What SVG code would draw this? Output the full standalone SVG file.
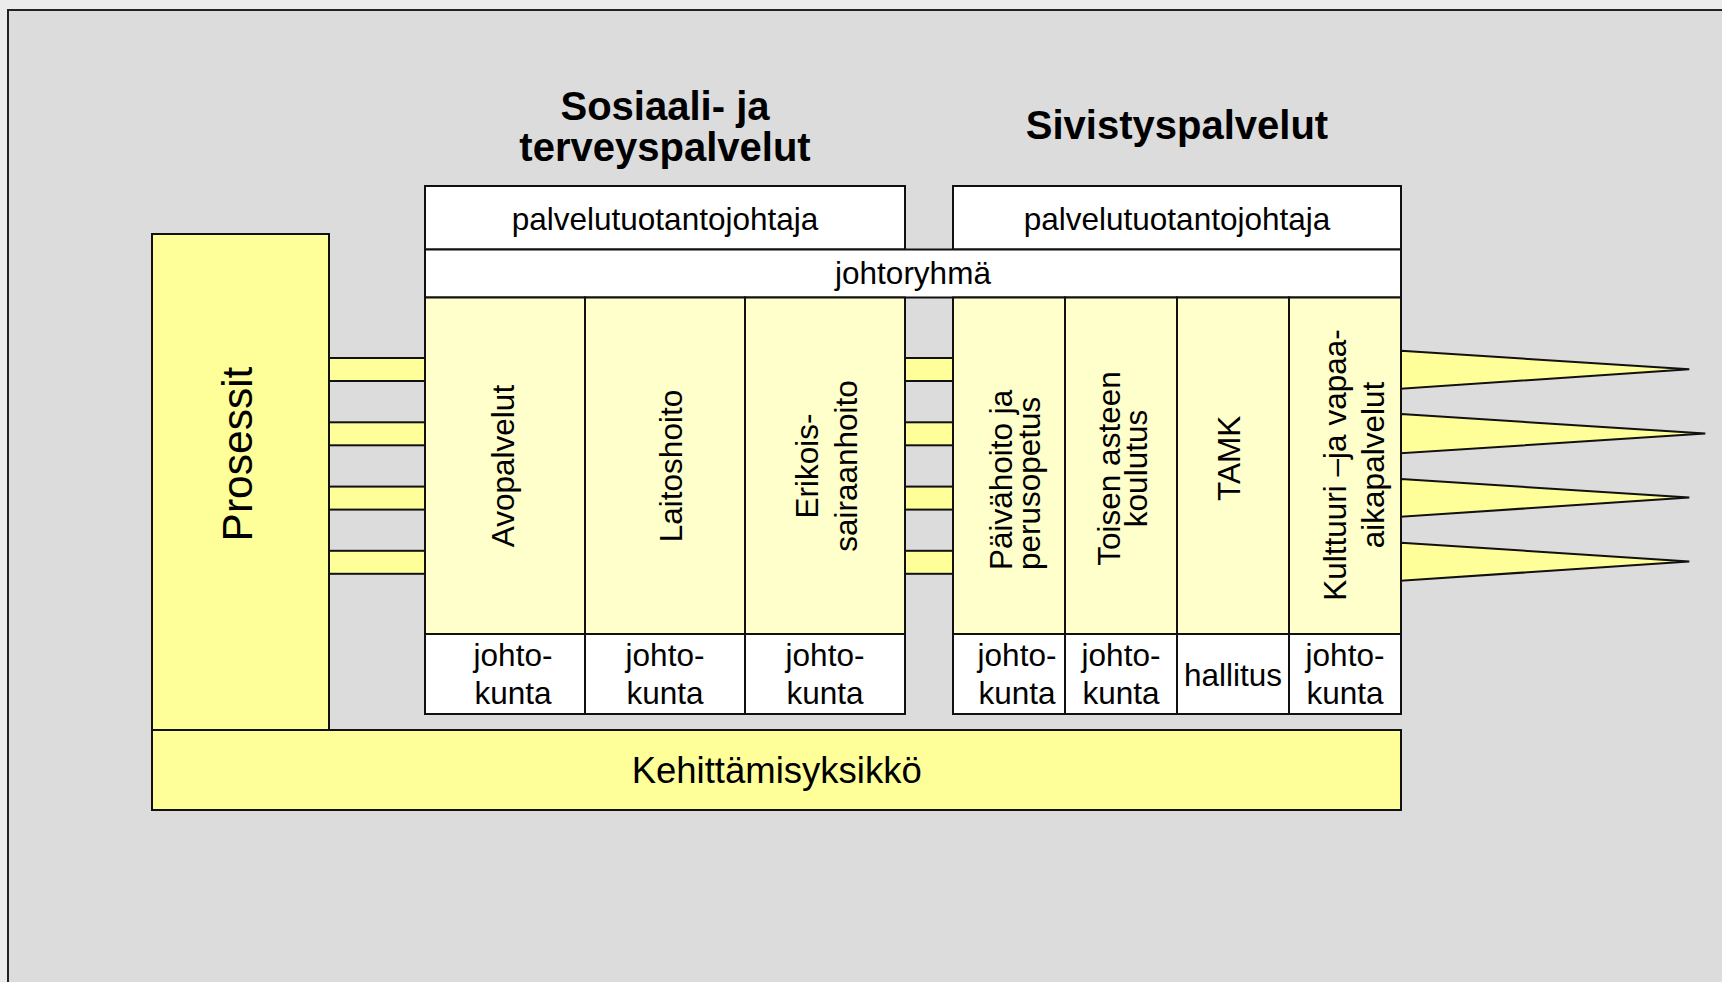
<svg xmlns="http://www.w3.org/2000/svg" width="1722" height="982" viewBox="0 0 1722 982">
<style>
text{font-family:"Liberation Sans",Arial,sans-serif;fill:#000}
.t{font-size:31.5px}
.c{text-anchor:middle}
.h{font-size:40px;font-weight:bold;text-anchor:middle}
.box{stroke:#111;stroke-width:2}
.w{fill:#fff}
.y{fill:#ffff99}
.ly{fill:#ffffcc}
</style>
<rect x="0" y="0" width="1722" height="982" fill="#ebebeb"/>
<rect x="8" y="10" width="1730" height="990" fill="#dcdcdc" stroke="#222" stroke-width="2"/>

<g id="titles">
<text class="h" x="665" y="120">Sosiaali- ja</text>
<text class="h" x="665" y="160.7">terveyspalvelut</text>
<text class="h" x="1177" y="139">Sivistyspalvelut</text>
</g>

<g id="connectors">
<rect class="box y" x="329" y="358" width="96" height="23"/>
<rect class="box y" x="329" y="422.3" width="96" height="23"/>
<rect class="box y" x="329" y="486.6" width="96" height="23"/>
<rect class="box y" x="329" y="550.8" width="96" height="23"/>
<rect class="box y" x="905" y="358" width="48" height="23"/>
<rect class="box y" x="905" y="422.3" width="48" height="23"/>
<rect class="box y" x="905" y="486.6" width="48" height="23"/>
<rect class="box y" x="905" y="550.8" width="48" height="23"/>
<polygon class="box y" points="1401,350.7 1689.3,369.3 1401,388.7"/>
<polygon class="box y" points="1401,414 1705.3,433.5 1401,453.3"/>
<polygon class="box y" points="1401,479 1689.3,497.5 1401,516.7"/>
<polygon class="box y" points="1401,542.7 1689.3,561.5 1401,580.7"/>
</g>

<g id="prosessit">
<rect class="box y" x="152" y="234" width="177" height="496"/>
<text transform="translate(252,454) rotate(-90)" class="c" style="font-size:42.5px">Prosessit</text>
</g>

<g id="kehittamisyksikko">
<rect class="box y" x="152" y="730" width="1249" height="80"/>
<text class="c" x="776.7" y="782.7" style="font-size:36.5px">Kehittämisyksikkö</text>
</g>

<g id="palvelutuotantojohtaja-sote">
<rect class="box w" x="425" y="186" width="480" height="63.5"/>
<text class="t c" x="665" y="230">palvelutuotantojohtaja</text>
</g>
<g id="palvelutuotantojohtaja-sivistys">
<rect class="box w" x="953" y="186" width="448" height="63.5"/>
<text class="t c" x="1177" y="230">palvelutuotantojohtaja</text>
</g>
<g id="johtoryhma">
<rect class="box w" x="425" y="249.5" width="976" height="48"/>
<text class="t c" x="913" y="284">johtoryhmä</text>
</g>

<g id="avopalvelut">
<rect class="box ly" x="425" y="297.5" width="160" height="336.5"/>
<text class="t c" transform="translate(514,466) rotate(-90)">Avopalvelut</text>
<rect class="box w" x="425" y="634" width="160" height="80"/>
<text class="t c" x="513" y="666">johto-</text>
<text class="t c" x="513" y="704">kunta</text>
</g>
<g id="laitoshoito">
<rect class="box ly" x="585" y="297.5" width="160" height="336.5"/>
<text class="t c" transform="translate(681.7,466) rotate(-90)">Laitoshoito</text>
<rect class="box w" x="585" y="634" width="160" height="80"/>
<text class="t c" x="665" y="666">johto-</text>
<text class="t c" x="665" y="704">kunta</text>
</g>
<g id="erikoissairaanhoito">
<rect class="box ly" x="745" y="297.5" width="160" height="336.5"/>
<text class="t c" transform="translate(818.3,466) rotate(-90)"><tspan x="0" y="0">Erikois-</tspan><tspan x="0" y="38.4">sairaanhoito</tspan></text>
<rect class="box w" x="745" y="634" width="160" height="80"/>
<text class="t c" x="825" y="666">johto-</text>
<text class="t c" x="825" y="704">kunta</text>
</g>

<g id="paivahoito">
<rect class="box ly" x="953" y="297.5" width="112" height="336.5"/>
<text class="t" transform="translate(1012.3,570) rotate(-90)"><tspan x="0" y="0">Päivähoito ja</tspan><tspan x="0" y="28">perusopetus</tspan></text>
<rect class="box w" x="953" y="634" width="112" height="80"/>
<text class="t c" x="1017" y="666">johto-</text>
<text class="t c" x="1017" y="704">kunta</text>
</g>
<g id="toisen-asteen">
<rect class="box ly" x="1065" y="297.5" width="112" height="336.5"/>
<text class="t c" transform="translate(1119.7,468.5) rotate(-90)"><tspan x="0" y="0">Toisen asteen</tspan><tspan x="0" y="27.5">koulutus</tspan></text>
<rect class="box w" x="1065" y="634" width="112" height="80"/>
<text class="t c" x="1121" y="666">johto-</text>
<text class="t c" x="1121" y="704">kunta</text>
</g>
<g id="tamk">
<rect class="box ly" x="1177" y="297.5" width="112" height="336.5"/>
<text class="t c" transform="translate(1240.3,458.3) rotate(-90)">TAMK</text>
<rect class="box w" x="1177" y="634" width="112" height="80"/>
<text class="t c" x="1233" y="686">hallitus</text>
</g>
<g id="kulttuuri">
<rect class="box ly" x="1289" y="297.5" width="112" height="336.5"/>
<text class="t c" transform="translate(1346,465) rotate(-90)"><tspan x="0" y="0">Kulttuuri –ja vapaa-</tspan><tspan x="0" y="38">aikapalvelut</tspan></text>
<rect class="box w" x="1289" y="634" width="112" height="80"/>
<text class="t c" x="1345" y="666">johto-</text>
<text class="t c" x="1345" y="704">kunta</text>
</g>
</svg>
